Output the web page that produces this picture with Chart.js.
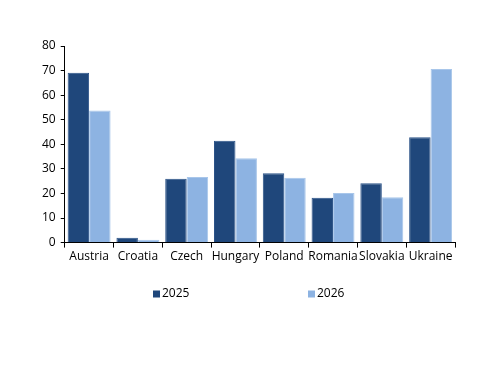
<!DOCTYPE html>
<html>
<head>
<meta charset="utf-8">
<script src="https://cdn.jsdelivr.net/npm/chart.js@4.4.0/dist/chart.umd.min.js"></script>
<style>
html,body{margin:0;padding:0;background:#fff;}
#wrap{width:500px;height:386px;position:relative;}
</style>
</head>
<body>
<div id="wrap"><canvas id="c"></canvas></div>
<script>
const categories = ["Austria","Croatia","Czech","Hungary","Poland","Romania","Slovakia","Ukraine"];
const series2025 = [69.1, 2.0, 26.0, 41.4, 28.2, 18.2, 24.2, 42.9];
const series2026 = [53.8, 1.2, 26.7, 34.3, 26.4, 20.2, 18.5, 70.6];
const seriesNames = ["2025","2026"];
const yTicks = [0,10,20,30,40,50,60,70,80];

const FAMILY = "'Open Sans', sans-serif";
const FSIZE = 12;

const legendPlugin = {
  id:'customLegend',
  afterDraw(chart){
    const ctx = chart.ctx;
    const xs = [153, 308];
    const y = 294;
    ctx.save();
    ctx.font = FSIZE + "px " + FAMILY;
    ctx.textBaseline = 'middle';
    chart.data.datasets.forEach((ds,i)=>{
      ctx.fillStyle = ds.backgroundColor;
      ctx.fillRect(xs[i], y-3.5, 7, 7);
      ctx.fillStyle = '#000';
      ctx.fillText(ds.label, xs[i]+9, y);
    });
    ctx.restore();
  }
};

new Chart(document.getElementById('c'), {
  type:'bar',
  data:{
    labels:categories,
    datasets:[
      {label:seriesNames[0], data:series2025, backgroundColor:'#1f477b', borderColor:'#2c5388', borderWidth:1, categoryPercentage:0.88, barPercentage:1},
      {label:seriesNames[1], data:series2026, backgroundColor:'#8db3e2', borderColor:'#a8c6ea', borderWidth:1, categoryPercentage:0.88, barPercentage:1}
    ]
  },
  plugins:[legendPlugin],
  options:{
    responsive:true, maintainAspectRatio:false, animation:false,
    layout:{padding:{left:37, right:45, top:46, bottom:120}},
    plugins:{
      legend:{display:false},
      tooltip:{enabled:false}
    },
    scales:{
      x:{
        grid:{display:true, drawOnChartArea:false, offset:true, color:'#000', tickLength:5, lineWidth:1},
        border:{display:true, color:'#000', width:1},
        ticks:{color:'#000', font:{family:FAMILY,size:FSIZE}, maxRotation:0, autoSkip:false, padding:2}
      },
      y:{
        min:0, max:80,
        afterBuildTicks:(ax)=>{ax.ticks = yTicks.map(v=>({value:v}));},
        grid:{display:true, drawOnChartArea:false, color:'#000', tickLength:4},
        border:{display:true, color:'#000', width:1},
        ticks:{color:'#000', font:{family:FAMILY,size:FSIZE}, padding:5, autoSkip:false}
      }
    }
  }
});
</script>
</body>
</html>
